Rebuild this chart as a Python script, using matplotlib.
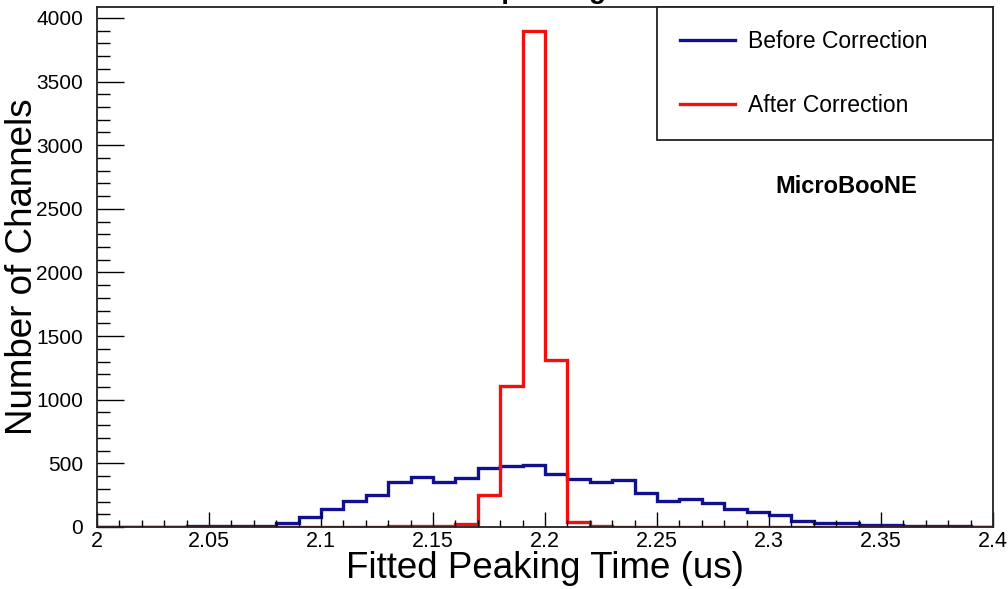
import numpy as np
import matplotlib
matplotlib.use("Agg")
import matplotlib.pyplot as plt
from matplotlib.ticker import MultipleLocator, FormatStrFormatter

plt.rcParams['font.family'] = ['Liberation Sans', 'DejaVu Sans']

# 40 bins of 0.01 us from 2.00 to 2.40
edges = np.round(np.linspace(2.0, 2.4, 41), 2)

before = [2, 2, 3, 3, 4, 5, 6, 10, 30, 80,
          145, 205, 250, 355, 395, 350, 385, 460, 480, 490,
          415, 375, 350, 370, 270, 205, 220, 185, 140, 120,
          95, 50, 35, 28, 18, 12, 8, 6, 4, 3]
after = [0, 0, 0, 0, 0, 0, 0, 1, 1, 2,
         2, 3, 3, 4, 4, 5, 20, 250, 1110, 3900,
         1310, 42, 5, 3, 2, 2, 1, 1, 1, 0,
         0, 0, 0, 0, 0, 0, 0, 0, 0, 0]

fig = plt.figure(figsize=(10.08, 5.89), dpi=100)
ax = fig.add_axes([97/1008, 62/589, 896/1008, 520/589])

ax.stairs(before, edges, color='#101090', lw=2.4, label='Before Correction')
ax.stairs(after, edges, color='#f01010', lw=2.4, label='After Correction')

ax.set_xlim(2.0, 2.4)
ax.set_ylim(0, 4086)

ax.xaxis.set_major_locator(MultipleLocator(0.05))
ax.xaxis.set_minor_locator(MultipleLocator(0.01))
ax.xaxis.set_major_formatter(FormatStrFormatter('%g'))
ax.yaxis.set_major_locator(MultipleLocator(500))
ax.yaxis.set_minor_locator(MultipleLocator(100))

ax.tick_params(axis='x', which='major', direction='in', length=10.8, width=1, labelsize=15.5, pad=3)
ax.tick_params(axis='x', which='minor', direction='in', length=5.4, width=1)
ax.tick_params(axis='y', which='major', direction='in', length=19.4, width=1, labelsize=15, pad=10)
ax.tick_params(axis='y', which='minor', direction='in', length=9.4, width=1)

for s in ax.spines.values():
    s.set_linewidth(1.3)
    s.set_color('#222222')

ax.set_xlabel('Fitted Peaking Time (us)', fontsize=26.5, labelpad=-1)
ax.set_ylabel('Number of Channels', fontsize=26.5, labelpad=-3)

leg = ax.legend(loc='upper left', bbox_to_anchor=(0.625, 0.75, 0.375, 0.25), mode='expand',
                borderaxespad=0, fancybox=False, edgecolor='#222222', framealpha=1,
                fontsize=16.5, borderpad=1.0, labelspacing=1.8,
                handlelength=2.4, handletextpad=0.55)
leg.get_frame().set_linewidth(1.3)

ax.text(0.836, 0.654, 'MicroBooNE', transform=ax.transAxes, fontsize=17,
        fontweight='bold', ha='center', va='center')

fig.text(0.54, 1.003, 'Fitted peaking time', fontsize=20, fontweight='bold',
         ha='center', va='baseline')

fig.savefig('out.png', dpi=100)
